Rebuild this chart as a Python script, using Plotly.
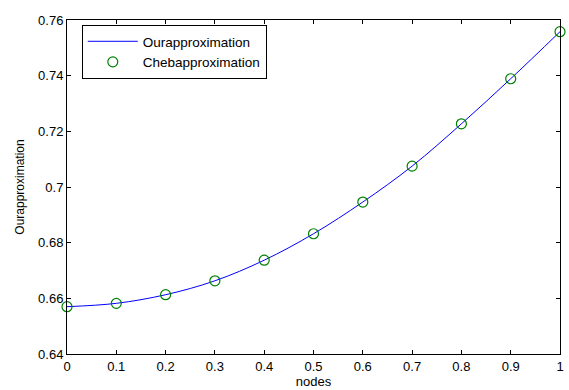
import plotly.graph_objects as go

nodes = [0, 0.1, 0.2, 0.3, 0.4, 0.5, 0.6, 0.7, 0.8, 0.9, 1.0]
our_approx = [0.6570, 0.6582, 0.6613, 0.6663, 0.6737, 0.6832, 0.6946, 0.7075, 0.7227, 0.7389, 0.7558]
cheb_approx = [0.6570, 0.6582, 0.6613, 0.6663, 0.6737, 0.6832, 0.6946, 0.7075, 0.7227, 0.7389, 0.7558]
x_ticks = [0, 0.1, 0.2, 0.3, 0.4, 0.5, 0.6, 0.7, 0.8, 0.9, 1]
x_tick_labels = ["0", "0.1", "0.2", "0.3", "0.4", "0.5", "0.6", "0.7", "0.8", "0.9", "1"]
y_ticks = [0.64, 0.66, 0.68, 0.70, 0.72, 0.74, 0.76]
y_tick_labels = ["0.64", "0.66", "0.68", "0.7", "0.72", "0.74", "0.76"]

fig = go.Figure()
fig.add_trace(go.Scatter(
    x=nodes, y=our_approx, mode="lines", name="Ourapproximation",
    line=dict(color="#0000ff", width=1, shape="spline"),
))
fig.add_trace(go.Scatter(
    x=nodes, y=cheb_approx, mode="markers", name="Chebapproximation",
    marker=dict(symbol="circle-open", color="#008000", size=10, line=dict(width=1.2)),
    cliponaxis=False,
))

axis_common = dict(
    showgrid=False, zeroline=False, showline=True, linecolor="black", linewidth=1,
    mirror="ticks", ticks="inside", ticklen=4, tickcolor="black",
    tickfont=dict(family="Liberation Sans, Arial", size=13, color="black"),
)
fig.update_xaxes(
    range=[0, 1], tickvals=x_ticks, ticktext=x_tick_labels,
    title=dict(text="nodes", font=dict(family="Liberation Sans, Arial", size=13, color="black"), standoff=2),
    **axis_common,
)
fig.update_yaxes(
    range=[0.64, 0.76], tickvals=y_ticks, ticktext=y_tick_labels,
    title=dict(text="Ourapproximation", font=dict(family="Liberation Sans, Arial", size=12, color="black"), standoff=10),
    **axis_common,
)
fig.update_layout(
    width=569, height=390,
    margin=dict(l=67, r=5, t=20, b=34),
    paper_bgcolor="white", plot_bgcolor="white",
    showlegend=True,
    legend=dict(
        x=0.03, y=0.985, xanchor="left", yanchor="top",
        bgcolor="white", bordercolor="black", borderwidth=1,
        font=dict(family="Liberation Sans, Arial", size=13.5, color="black"),
        tracegroupgap=0, itemwidth=50,
    ),
)
fig.write_html("out.html")
